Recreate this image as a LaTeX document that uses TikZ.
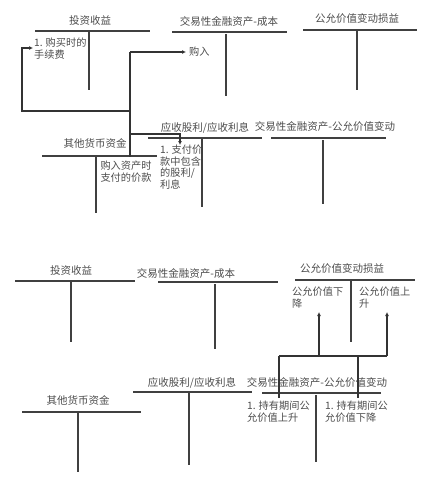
\documentclass[tikz,border=0pt]{standalone}
\usepackage{fontspec}
\newfontfamily\cjk{Noto Sans CJK SC}
\usetikzlibrary{arrows.meta}
\begin{document}
\begin{tikzpicture}[x=1pt,y=-1pt,
  ttl/.style={font=\cjk\fontsize{10.5}{12}\selectfont, text=black!70, inner sep=0pt},
  lbl/.style={font=\cjk\fontsize{10.2}{11.5}\selectfont, text=black!70, inner sep=0pt, align=left, anchor=north west},
  tline/.style={line width=1.3pt, draw=black!75},
  conn/.style={line width=1.1pt, draw=black!80},
  arr/.style={conn, -{Latex[length=4pt,width=4pt]}}]
\useasboundingbox (0,0) rectangle (429,500);
% ---------- top half ----------
\node[ttl] (a1) at (90,21) {投资收益};
\draw[tline] (35,31) -- (150,31);
\draw[tline] (89,31) -- (89,90);

\node[ttl] (a2) at (229,22) {交易性金融资产-成本};
\draw[tline] (172,32) -- (287,32);
\draw[tline] (226,34) -- (226,96);

\node[ttl] (a3) at (357,19) {公允价值变动损益};
\draw[tline] (303,30) -- (417,30);
\draw[tline] (357,31) -- (357,90);

\node[ttl] (a4) at (95,143) {其他货币资金};
\draw[tline] (42,156) -- (157,156);
\draw[tline] (96,156) -- (96,213);

\node[ttl] (a5) at (205,128) {应收股利/应收利息};
\draw[tline] (148,138) -- (262,138);
\draw[tline] (202,138) -- (202,207);

\node[ttl] (a6) at (325,127) {交易性金融资产-公允价值变动};
\draw[tline] (271,138) -- (386,138);
\draw[tline] (323,140) -- (323,204);

\node[lbl] (l1) at (34,38) {1. 购买时的\\手续费};
\node[lbl, anchor=west] (l2) at (189,52) {购入};
\node[lbl, align=center, anchor=north] (l3) at (126,161) {购入资产时\\支付的价款};
\node[lbl] (l4) at (160,145) {1. 支付价\\款中包含\\的股利/\\利息};

\coordinate (v1) at (130,52);
\coordinate (v2) at (130,111);
\coordinate (v3) at (130,134);
\coordinate (v4) at (130,157);
\coordinate (h1) at (22,111);
\coordinate (h2) at (22,48);
\coordinate (e1) at (33,48);
\coordinate (e2) at (186,52);
\coordinate (h3) at (180,134);
\coordinate (e3) at (180,145);
\draw[conn] (v1) -- (v4);
\draw[arr] (v1) -- (e2);
\draw[arr] (v2) -- (h1) -- (h2) -- (e1);
\draw[arr] (v3) -- (h3) -- (e3);

% ---------- bottom half ----------
\node[ttl] (b1) at (71,271) {投资收益};
\draw[tline] (15,281) -- (135,281);
\draw[tline] (71,281) -- (71,342);

\node[ttl] (b2) at (186,273) {交易性金融资产-成本};
\draw[tline] (158,282) -- (278,282);
\draw[tline] (215,284) -- (215,349);

\node[ttl] (b3) at (342,269) {公允价值变动损益};
\draw[tline] (295,280) -- (415,280);
\draw[tline] (351,280) -- (351,342);

\node[ttl] (b4) at (78,400) {其他货币资金};
\draw[tline] (22,412) -- (141,412);
\draw[tline] (78,412) -- (78,472);

\node[ttl] (b5) at (192,383) {应收股利/应收利息};
\draw[tline] (133,392) -- (252,392);
\draw[tline] (189,392) -- (189,465);

\node[ttl] (b6) at (317,383) {交易性金融资产-公允价值变动};
\draw[tline] (262,393) -- (381,393);
\draw[tline] (316,395) -- (316,462);

\node[lbl] (m1) at (292,287) {公允价值下\\降};
\node[lbl] (m2) at (359,287) {公允价值上\\升};
\node[lbl] (m3) at (247,401) {1. 持有期间公\\允价值上升};
\node[lbl] (m4) at (325,401) {1. 持有期间公\\允价值下降};

\coordinate (p1) at (279,356);
\coordinate (p2) at (319,356);
\coordinate (p3) at (358,356);
\coordinate (p4) at (387,356);
\coordinate (q2) at (319,312);
\coordinate (q4) at (387,312);
\coordinate (d1) at (279,398);
\coordinate (d3) at (358,398);
\draw[conn] (p1) -- (p4);
\draw[conn] (p1) -- (d1);
\draw[conn] (p3) -- (d3);
\draw[arr] (p2) -- (q2);
\draw[arr] (p4) -- (q4);
\end{tikzpicture}
\end{document}
